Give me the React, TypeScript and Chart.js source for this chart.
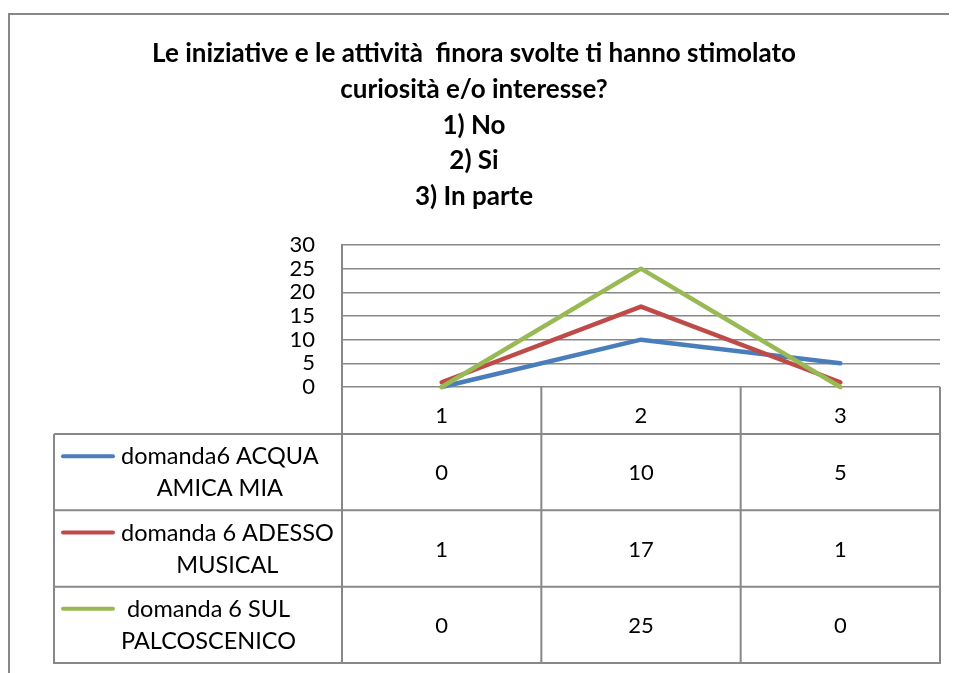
import React, { useEffect, useRef } from 'react';
import { Chart, registerables } from 'chart.js';

Chart.register(...registerables);

// ---- data ----
const titleLines = [
  'Le iniziative e le attività  finora svolte ti hanno stimolato',
  'curiosità e/o interesse?',
  '1) No',
  '2) Si',
  '3) In parte',
];
const categories = ['1', '2', '3'];
const seriesNames = [
  'domanda6 ACQUA AMICA MIA',
  'domanda 6 ADESSO MUSICAL',
  'domanda 6 SUL PALCOSCENICO',
];
const acquaAmicaMia = [0, 10, 5];
const adessoMusical = [1, 17, 1];
const sulPalcoscenico = [0, 25, 0];
const seriesColors = ['#4A7EBB', '#BE4B48', '#98B954'];
const yMin = 0;
const yMax = 30;
const yStep = 5;

// ---- styles ----
const FONT = 'Lato, "Open Sans", sans-serif';
const LINE_GRAY = '#888888';
const W = 960;
const H = 665;

const framePlugin = {
  id: 'frameAndTitle',
  beforeDraw(chart: any) {
    const ctx = chart.ctx as CanvasRenderingContext2D;
    ctx.save();
    ctx.fillStyle = '#ffffff';
    ctx.fillRect(0, 0, chart.width, chart.height);
    ctx.strokeStyle = LINE_GRAY;
    ctx.lineWidth = 2;
    ctx.beginPath();
    ctx.moveTo(1, chart.height);
    ctx.lineTo(1, 6);
    ctx.lineTo(chart.width, 6);
    ctx.stroke();

    ctx.fillStyle = '#000';
    ctx.font = `bold 26px ${FONT}`;
    ctx.textAlign = 'center';
    ctx.textBaseline = 'alphabetic';
    const cx = 466;
    titleLines.forEach((t, i) => {
      ctx.fillText(t, cx, 54 + i * 35.8);
    });
    ctx.restore();
  },
};

function wrap(ctx: CanvasRenderingContext2D, text: string, maxW: number): string[] {
  const words = text.split(' ');
  const lines: string[] = [];
  let cur = '';
  for (const w of words) {
    const test = cur ? cur + ' ' + w : w;
    if (cur && ctx.measureText(test).width > maxW) {
      lines.push(cur);
      cur = w;
    } else cur = test;
  }
  if (cur) lines.push(cur);
  return lines;
}

const tablePlugin = {
  id: 'dataTable',
  afterDraw(chart: any) {
    const ctx = chart.ctx as CanvasRenderingContext2D;
    const xs = chart.scales.x;
    const area = chart.chartArea;
    const n = categories.length;
    const left = xs.left;
    const right = xs.right;
    const bounds = Array.from({ length: n + 1 }, (_, i) => left + ((right - left) * i) / n);
    const headerTop = area.bottom;
    const headerBottom = area.bottom + 47;
    const tableLeft = 46;
    const tableBottom = H - 10;
    const sets = chart.data.datasets;
    const rowH = (tableBottom - headerBottom) / sets.length;

    ctx.save();
    ctx.strokeStyle = LINE_GRAY;
    ctx.lineWidth = 2;
    ctx.beginPath();
    for (let r = 0; r <= sets.length; r++) {
      const y = headerBottom + r * rowH;
      ctx.moveTo(tableLeft, y);
      ctx.lineTo(right, y);
    }
    ctx.moveTo(tableLeft, headerBottom);
    ctx.lineTo(tableLeft, tableBottom + 1);
    bounds.forEach((b) => {
      ctx.moveTo(b, headerTop);
      ctx.lineTo(b, tableBottom + 1);
    });
    ctx.stroke();

    ctx.fillStyle = '#000';
    ctx.textBaseline = 'alphabetic';
    sets.forEach((ds: any, r: number) => {
      const cy = headerBottom + r * rowH + rowH / 2;
      ctx.font = `22px ${FONT}`;
      ctx.textAlign = 'center';
      ds.data.forEach((v: number, j: number) => {
        ctx.fillText(String(v), xs.getPixelForValue(j), cy + 8);
      });
      ctx.font = `23.5px ${FONT}`;
      const lines = wrap(ctx, ds.label, 240);
      const lh = 32;
      const firstY = cy - ((lines.length - 1) * lh) / 2;
      ctx.save();
      ctx.strokeStyle = ds.borderColor;
      ctx.lineWidth = 4;
      ctx.lineCap = 'round';
      ctx.beginPath();
      ctx.moveTo(tableLeft + 9, firstY);
      ctx.lineTo(tableLeft + 59, firstY);
      ctx.stroke();
      ctx.restore();
      const widths = lines.map((l) => ctx.measureText(l).width);
      const blockW = Math.max(...widths);
      const blockL = tableLeft + 67;
      ctx.textAlign = 'center';
      lines.forEach((l, k) => {
        ctx.fillText(l, blockL + blockW / 2, firstY + k * lh + 8);
      });
    });
    ctx.restore();
  },
};

export default function App() {
  const ref = useRef<HTMLCanvasElement | null>(null);

  useEffect(() => {
    document.documentElement.style.overflow = 'hidden';
    document.body.style.overflow = 'hidden';
    const canvas = ref.current;
    if (!canvas) return;
    const values = [acquaAmicaMia, adessoMusical, sulPalcoscenico];
    const chart = new Chart(canvas, {
      type: 'line',
      data: {
        labels: categories,
        datasets: values.map((d, i) => ({
          label: seriesNames[i],
          data: d,
          borderColor: seriesColors[i],
          backgroundColor: seriesColors[i],
          borderWidth: 4.5,
          pointRadius: 0,
          tension: 0,
          borderCapStyle: 'round',
          borderJoinStyle: 'round',
          clip: false,
          order: values.length - 1 - i,
        })),
      },
      options: {
        responsive: false,
        animation: false,
        devicePixelRatio: 1,
        layout: { padding: { top: 237, right: 28, left: 0, bottom: 0 } },
        plugins: {
          legend: { display: false },
          tooltip: { enabled: false },
          title: { display: false },
        },
        scales: {
          x: {
            type: 'category',
            offset: true,
            grid: { display: false, drawTicks: false },
            border: { display: false },
            ticks: {
              color: '#000',
              padding: 16,
              font: { family: FONT, size: 22 },
              maxRotation: 0,
            },
            afterFit: (scale: any) => {
              scale.height = 286;
            },
          },
          y: {
            min: yMin,
            max: yMax,
            ticks: {
              stepSize: yStep,
              autoSkip: false,
              color: '#000',
              padding: 27,
              font: { family: FONT, size: 22, lineHeight: 1 },
            },
            grid: { color: LINE_GRAY, lineWidth: 1.5, drawTicks: false },
            border: { display: true, color: LINE_GRAY, width: 2 },
            afterFit: (scale: any) => {
              scale.width = 334;
            },
          },
        },
      },
      plugins: [framePlugin, tablePlugin],
    } as any);
    return () => chart.destroy();
  }, []);

  return <canvas ref={ref} width={W} height={H} style={{ display: 'block' }} />;
}
